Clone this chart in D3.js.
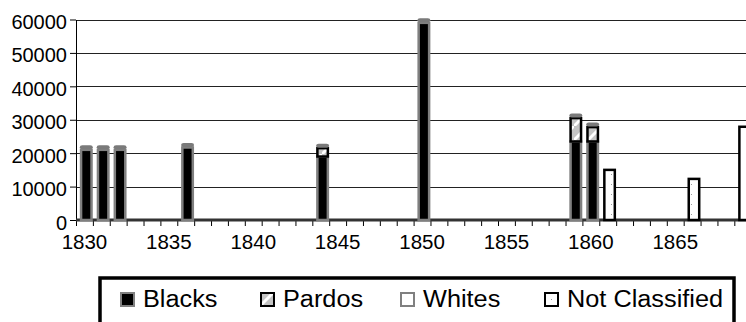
<!DOCTYPE html>
<html>
<head>
<meta charset="utf-8">
<script src="https://cdn.jsdelivr.net/npm/d3@7"></script>
<style>
  body { margin: 0; background: #fff; }
  svg { display: block; }
  svg text { font-family: "Liberation Sans", Arial, sans-serif; }
</style>
</head>
<body>
<div id="chart"></div>
<script>
// values
const years         = [1830, 1831, 1832, 1836, 1844, 1850, 1859, 1860, 1861, 1866, 1869];
const blacks        = [21000, 21000, 21000, 21700, 19000, 59000, 23500, 23500, 0, 0, 0];
const pardos        = [0, 0, 0, 0, 2500, 0, 7000, 4300, 0, 0, 0];
const whites        = [0, 0, 0, 0, 0, 0, 0, 0, 0, 0, 0];
const notClassified = [0, 0, 0, 0, 0, 0, 0, 0, 15000, 12300, 27900];
const seriesNames   = ["Blacks", "Pardos", "Whites", "Not Classified"];
const yTicks        = [0, 10000, 20000, 30000, 40000, 50000, 60000];
const xTickLabels   = [1830, 1835, 1840, 1845, 1850, 1855, 1860, 1865];
const firstYear = 1830, lastYear = 1869;

const W = 746, H = 322;
const plotLeft = 76, plotTop = 19.5, plotBottom = 220;
const step = 16.88;

const svg = d3.select("#chart").append("svg")
  .attr("width", W).attr("height", H);

// patterns
const defs = svg.append("defs");
const pPard = defs.append("pattern").attr("id", "pard")
  .attr("patternUnits", "userSpaceOnUse").attr("width", 14).attr("height", 14);
pPard.append("rect").attr("width", 14).attr("height", 14).attr("fill", "#c4c4c4");
pPard.append("path").attr("d", "M-2,16 L16,-2").attr("stroke", "#fff").attr("stroke-width", 3);
const pNC = defs.append("pattern").attr("id", "nc")
  .attr("patternUnits", "userSpaceOnUse").attr("width", 8).attr("height", 10);
pNC.append("rect").attr("width", 8).attr("height", 10).attr("fill", "#fff");
pNC.append("rect").attr("x", 3).attr("y", 4).attr("width", 1).attr("height", 1).attr("fill", "#999");

const cats = d3.range(firstYear, lastYear + 1);
const x = d3.scaleBand().domain(cats).range([plotLeft, plotLeft + cats.length * step]);
const y = d3.scaleLinear().domain([0, 60000]).range([plotBottom, plotTop]);

// gridlines
svg.append("g").selectAll("line")
  .data(yTicks.filter(d => d > 0))
  .enter().append("line")
  .attr("x1", plotLeft).attr("x2", W)
  .attr("y1", d => Math.round(y(d)) + 0.5).attr("y2", d => Math.round(y(d)) + 0.5)
  .attr("stroke", "#222").attr("stroke-width", 1);

// y axis
const yAxis = svg.append("g")
  .attr("transform", `translate(${plotLeft},0)`)
  .call(d3.axisLeft(y).tickValues(yTicks).tickFormat(d3.format("d"))
          .tickSize(6).tickPadding(3).tickSizeOuter(0));
yAxis.attr("font-family", null);
yAxis.select(".domain").attr("stroke", "#000");
yAxis.selectAll(".tick line").attr("stroke", "#000");
yAxis.selectAll(".tick text").attr("font-size", 20).attr("fill", "#000").attr("dy", "0.45em");

// x axis: ticks at category boundaries, labels at centres
svg.append("g").selectAll("line")
  .data(cats.concat([lastYear + 1]))
  .enter().append("line")
  .attr("x1", d => (d <= lastYear ? x(d) : x(lastYear) + step) + 0.5)
  .attr("x2", d => (d <= lastYear ? x(d) : x(lastYear) + step) + 0.5)
  .attr("y1", plotBottom).attr("y2", plotBottom + 6)
  .attr("stroke", "#000");

const xAxis = svg.append("g")
  .attr("transform", `translate(0,${plotBottom})`)
  .call(d3.axisBottom(x).tickValues(xTickLabels).tickSize(0).tickPadding(14));
xAxis.attr("font-family", null);
xAxis.select(".domain").remove();
xAxis.selectAll(".tick text").attr("font-size", 20.5).attr("fill", "#000");

// floor
svg.append("line")
  .attr("x1", plotLeft).attr("x2", W).attr("y1", plotBottom).attr("y2", plotBottom)
  .attr("stroke", "#333").attr("stroke-width", 3);

// stacked bars
const rows = years.map((yr, i) => ({
  year: yr, Blacks: blacks[i], Pardos: pardos[i], Whites: whites[i], "Not Classified": notClassified[i]
}));
const stack = d3.stack().keys(seriesNames)(rows);

const style = {
  "Blacks":         {fill: "#000", stroke: "#808080"},
  "Pardos":         {fill: "url(#pard)", stroke: "#000"},
  "Whites":         {fill: "#fff", stroke: "#808080"},
  "Not Classified": {fill: "url(#nc)", stroke: "#000"}
};

const bx = d => x(d.data.year) + step * 0.3;
const bw = step * 0.62;

stack.forEach(s => {
  svg.append("g").selectAll("rect")
    .data(s.filter(d => d[1] > d[0]))
    .enter().append("rect")
    .attr("x", bx)
    .attr("y", d => y(d[1]))
    .attr("width", bw)
    .attr("height", d => y(d[0]) - y(d[1]))
    .attr("fill", style[s.key].fill)
    .attr("stroke", style[s.key].stroke)
    .attr("stroke-width", 2.5);
});

// grey 3D caps on bars whose top is Blacks or Pardos
const capped = rows.filter(r => r["Not Classified"] === 0 && r.Whites === 0);
svg.append("g").selectAll("rect")
  .data(capped)
  .enter().append("rect")
  .attr("x", r => x(r.year) + step * 0.3 - 1.25)
  .attr("y", r => y(r.Blacks + r.Pardos) - 4.5)
  .attr("width", bw + 2.5)
  .attr("height", 4)
  .attr("rx", 2.5)
  .attr("fill", "#7a7a7a");

// legend
const lg = svg.append("g");
lg.append("rect")
  .attr("x", 100).attr("y", 278).attr("width", 634).attr("height", 80)
  .attr("fill", "#fff").attr("stroke", "#000").attr("stroke-width", 3.5);

const legendX = [120, 260, 400, 544];
const item = lg.selectAll("g.item").data(seriesNames).enter().append("g")
  .attr("transform", (d, i) => `translate(${legendX[i]},292)`);
item.append("rect")
  .attr("x", 1).attr("y", 1).attr("width", 13).attr("height", 13)
  .attr("fill", d => d === "Not Classified" ? "#fff" : style[d].fill)
  .attr("stroke", d => style[d].stroke)
  .attr("stroke-width", 2);
item.filter(d => d === "Not Classified").append("rect")
  .attr("x", 7).attr("y", 7).attr("width", 1).attr("height", 1).attr("fill", "#999");
item.append("text")
  .attr("x", 23).attr("y", 14.5)
  .attr("font-size", 23)
  .attr("fill", "#000")
  .text(d => d)
  .each(function () {
    const len = this.getComputedTextLength();
    d3.select(this).attr("textLength", len * 1.1).attr("lengthAdjust", "spacingAndGlyphs");
  });
</script>
</body>
</html>
